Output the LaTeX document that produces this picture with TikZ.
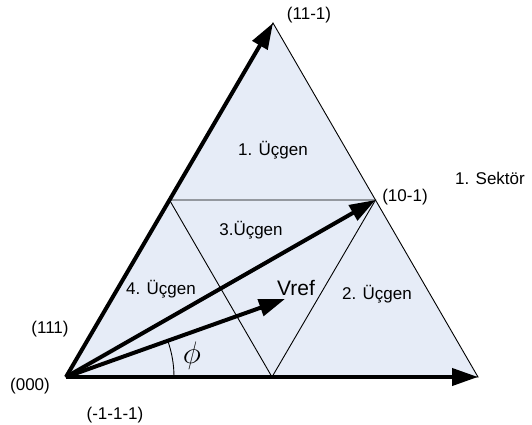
\documentclass[tikz,border=0pt]{standalone}
\usepackage{fontspec}
\setmainfont{Liberation Sans}
\usetikzlibrary{arrows.meta}
\definecolor{tri}{RGB}{230,236,247}
\tikzset{
  thinline/.style={line width=0.9pt, black},
  vec/.style={line width=4pt, black, -{Triangle[length=26pt,width=17pt]}},
  lbl/.style={inner sep=0pt, font=\fontsize{17}{20}\selectfont},
}
\begin{document}
\begin{tikzpicture}[x=1pt,y=-1pt]
\useasboundingbox (0,0) rectangle (532,425);
\coordinate (O) at (66,377);
\coordinate (T) at (273,23);
\coordinate (R) at (478,377);
\coordinate (ML) at (169.5,200);
\coordinate (MR) at (375.5,200);
\coordinate (MB) at (272,377);
\coordinate (V) at (285,299);
\fill[tri] (O) -- (T) -- (R) -- cycle;
\draw[thinline] (O) -- (T) -- (R) -- cycle;
\draw[thinline] (ML) -- (MR) -- (MB) -- cycle;
\draw[thinline] (174,377) arc[start angle=0, end angle=-19.6, radius=108];
\draw[vec] (O) -- (T);
\draw[vec] (O) -- (R);
\draw[vec] (O) -- (MR);
\draw[vec] (O) -- (V);
\node[lbl] (l11m1) at (309,15) {(11-1)};
\node[lbl] (u1) at (273,150) {1. Üçgen};
\node[lbl] (sek) at (490,178) {1. Sektör};
\node[lbl] (l10m1) at (405,197) {(10-1)};
\node[lbl] (u3) at (251,230) {3.Üçgen};
\node[lbl] (u4) at (161,289) {4. Üçgen};
\node[lbl, font=\fontsize{21}{24}\selectfont] (vref) at (296,288) {Vref};
\node[lbl] (u2) at (377,294) {2. Üçgen};
\node[lbl] (l111) at (50,329) {(111)};
\node[lbl] (l000) at (30,386) {(000)};
\node[lbl] (lm1) at (115,415) {(-1-1-1)};
\node[inner sep=0pt, scale=1.5] (phi) at (192,356) {\fontsize{20}{24}\selectfont$\phi$};
\end{tikzpicture}
\end{document}
